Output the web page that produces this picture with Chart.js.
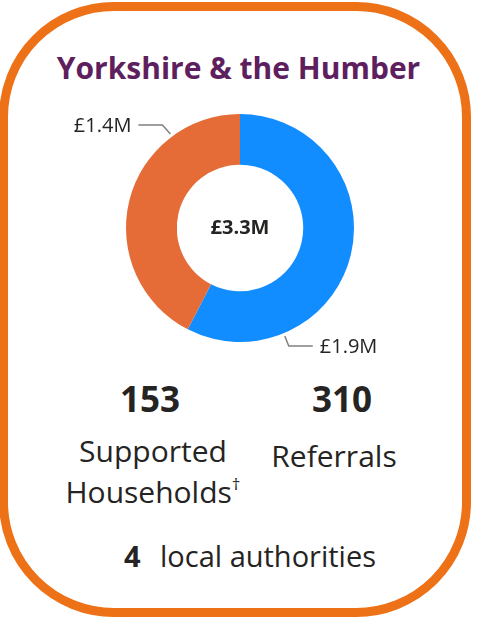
<!DOCTYPE html>
<html lang="en">
<head>
  <meta charset="UTF-8" />
  <title>Yorkshire & the Humber</title>
  <script src="https://cdn.jsdelivr.net/npm/chart.js@4.4.0/dist/chart.umd.min.js"></script>
  <style>
    body        { margin:0; width:477px; height:618px; overflow:hidden; background:#fff;
                  font-family:"Segoe UI","Open Sans",sans-serif; color:#252423; position:relative; }
    .card       { position:absolute; left:-1px; top:2px; width:454px; height:597px;
                  border:9px solid #ED7117; border-radius:115px; }
    .title      { position:absolute; left:0; width:477px; top:47px; text-align:center;
                  font-size:30px; line-height:41px; font-weight:700; color:#5E1F5E; }
    #donut      { position:absolute; left:0; top:100px; }
    .num        { position:absolute; top:375px; font-size:35px; line-height:48px; font-weight:700; text-align:center; width:160px; }
    .lbl        { position:absolute; top:430px; font-size:30px; line-height:41px; text-align:center; width:220px; }
    .lbl sup    { font-size:17px; vertical-align:baseline; position:relative; top:-13px; line-height:0; }
    .foot       { position:absolute; top:536px; left:0; width:477px; font-size:29px; line-height:40px; }
    .foot b     { position:absolute; left:124px; }
    .foot span  { position:absolute; left:160px; }
  </style>
</head>
<body>
  <div class="card"></div>
  <div class="title">Yorkshire &amp; the Humber</div>

  <canvas id="donut" width="477" height="256"></canvas>

  <div class="num" id="num0" style="left:70px"></div>
  <div class="num" id="num1" style="left:262px"></div>
  <div class="lbl" id="lbl0" style="left:43px"></div>
  <div class="lbl" id="lbl1" style="left:224px;top:435px"></div>
  <div class="foot"><b id="laCount"></b><span>local authorities</span></div>

  <script>
    /* ── data ── */
    const sliceNames  = ['Blue segment', 'Orange segment'];
    const sliceValues = [1.9, 1.4];
    const sliceText   = ['£1.9M', '£1.4M'];
    const totalText   = '£3.3M';
    const sliceColors = ['#118DFF', '#E66C37'];

    const statValues  = [153, 310];
    const statLabels  = ['Supported<br>Households<sup>†</sup>', 'Referrals'];
    const laValue     = 4;

    /* ── html stats ── */
    statValues.forEach((v,i)=>{ document.getElementById('num'+i).textContent = v; });
    statLabels.forEach((t,i)=>{ document.getElementById('lbl'+i).innerHTML = t; });
    document.getElementById('laCount').textContent = laValue;

    /* leader line geometry per slice: start angle (deg clockwise from top), elbow, run */
    const leaders = [
      { angle:157.5, elbow:[4,10],  run:24,  align:'left'  },
      { angle:323.5, elbow:[-8,-9], run:-24, align:'right' }
    ];

    const labelPlugin = {
      id:'donutLabels',
      afterDraw(chart){
        const ctx  = chart.ctx;
        const meta = chart.getDatasetMeta(0);
        const arc0 = meta.data[0];
        const cx = arc0.x, cy = arc0.y;

        // centre total
        ctx.save();
        ctx.fillStyle = '#252423';
        ctx.font = '700 20px "Segoe UI","Open Sans",sans-serif';
        ctx.textAlign = 'center';
        ctx.textBaseline = 'middle';
        ctx.fillText(totalText, cx, cy);

        // outside labels with leader lines
        meta.data.forEach((arc,i)=>{
          const L = leaders[i];
          const a = (L.angle - 90) * Math.PI/180;
          const r = arc.outerRadius + 3;
          const sx = cx + Math.cos(a)*r, sy = cy + Math.sin(a)*r;
          const ex = sx + L.elbow[0],  ey = sy + L.elbow[1];
          const tx = ex + L.run;
          ctx.beginPath();
          ctx.strokeStyle = '#808080';
          ctx.lineWidth = 1.5;
          ctx.moveTo(sx, sy); ctx.lineTo(ex, ey); ctx.lineTo(tx, ey);
          ctx.stroke();
          ctx.font = '20px "Segoe UI","Open Sans",sans-serif';
          ctx.textAlign = L.align;
          ctx.fillStyle = '#252423';
          ctx.fillText(sliceText[i], tx + (L.run > 0 ? 7 : -7), ey + 1);
        });
        ctx.restore();
      }
    };

    new Chart(document.getElementById('donut'), {
      type:'doughnut',
      data:{
        labels:sliceNames,
        datasets:[{
          data:sliceValues,
          backgroundColor:sliceColors,
          borderWidth:0,
          hoverOffset:0
        }]
      },
      options:{
        responsive:false,
        animation:false,
        radius:114,
        cutout:71,
        layout:{ padding:{ left:3 } },
        plugins:{ legend:{display:false}, tooltip:{enabled:false} },
        events:[]
      },
      plugins:[labelPlugin]
    });
  </script>
</body>
</html>
